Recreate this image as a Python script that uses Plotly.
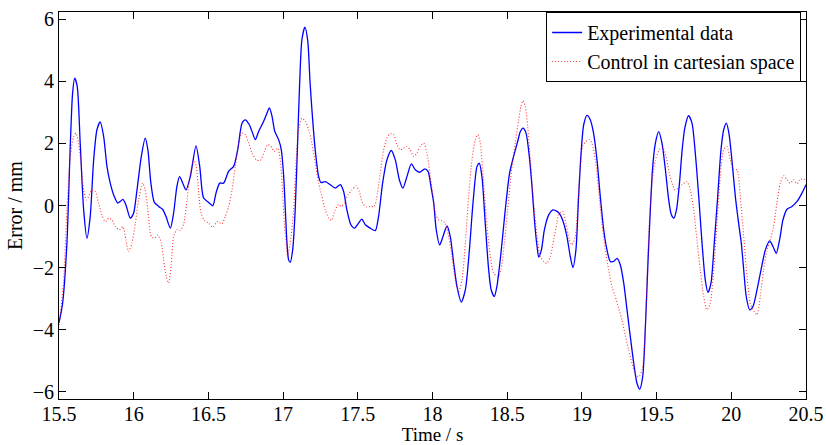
import plotly.graph_objects as go

# Measured tracking error (solid blue)
time_exp = [
    15.500, 15.524, 15.553, 15.576, 15.591, 15.605, 15.622, 15.642, 15.665, 15.687,
    15.709, 15.732, 15.754, 15.776, 15.799, 15.821, 15.843, 15.866, 15.893, 15.910,
    15.928, 15.948, 15.977, 15.999, 16.022, 16.051, 16.077, 16.095, 16.115, 16.138,
    16.167, 16.193, 16.216, 16.245, 16.267, 16.289, 16.307, 16.330, 16.350, 16.379,
    16.417, 16.442, 16.468, 16.502, 16.529, 16.551, 16.576, 16.602, 16.635, 16.669,
    16.696, 16.725, 16.747, 16.774, 16.796, 16.814, 16.837, 16.870, 16.888, 16.908,
    16.926, 16.944, 16.970, 16.988, 17.004, 17.015, 17.026, 17.037, 17.048, 17.064,
    17.081, 17.097, 17.110, 17.126, 17.146, 17.165, 17.180, 17.193, 17.215, 17.238,
    17.253, 17.282, 17.316, 17.349, 17.383, 17.405, 17.427, 17.454, 17.479, 17.505,
    17.527, 17.550, 17.583, 17.617, 17.639, 17.666, 17.695, 17.724, 17.751, 17.778,
    17.802, 17.829, 17.858, 17.885, 17.914, 17.948, 17.970, 17.990, 18.008, 18.025,
    18.048, 18.070, 18.097, 18.119, 18.142, 18.164, 18.193, 18.220, 18.247, 18.271,
    18.298, 18.313, 18.331, 18.353, 18.376, 18.393, 18.414, 18.431, 18.458, 18.487,
    18.516, 18.543, 18.570, 18.588, 18.606, 18.626, 18.648, 18.666, 18.684, 18.700,
    18.711, 18.729, 18.749, 18.778, 18.807, 18.834, 18.855, 18.878, 18.900, 18.922,
    18.940, 18.960, 18.978, 18.996, 19.012, 19.034, 19.056, 19.078, 19.101, 19.123,
    19.146, 19.168, 19.190, 19.213, 19.235, 19.257, 19.280, 19.302, 19.324, 19.347,
    19.369, 19.387, 19.407, 19.425, 19.443, 19.458, 19.474, 19.492, 19.514, 19.536,
    19.559, 19.581, 19.599, 19.615, 19.633, 19.653, 19.671, 19.689, 19.714, 19.737,
    19.759, 19.782, 19.804, 19.826, 19.844, 19.864, 19.886, 19.909, 19.931, 19.949,
    19.967, 19.984, 20.004, 20.027, 20.049, 20.067, 20.083, 20.100, 20.123, 20.145,
    20.172, 20.199, 20.228, 20.257, 20.279, 20.301, 20.323, 20.346, 20.373, 20.406,
    20.440, 20.473, 20.500,
]
error_exp = [
    -3.78, -3.15, -1.21, 2.00, 3.62, 4.10, 3.83, 2.00, -0.14, -1.05,
    -0.35, 1.47, 2.44, 2.69, 2.22, 1.26, 0.72, 0.34, 0.08, 0.13,
    0.20, 0.02, -0.41, -0.25, 0.50, 1.58, 2.17, 1.79, 0.72, 0.10,
    -0.03, -0.12, -0.35, -0.73, -0.25, 0.61, 0.93, 0.70, 0.50, 0.93,
    1.92, 1.26, 0.24, 0.10, -0.01, 0.40, 0.72, 0.72, 1.10, 1.26,
    1.79, 2.65, 2.76, 2.60, 2.33, 2.12, 2.39, 2.71, 2.92, 3.14,
    2.87, 2.39, 2.12, 1.79, 0.93, -0.14, -1.21, -1.75, -1.83, -1.43,
    -0.14, 2.01, 3.83, 5.34, 5.74, 5.30, 4.00, 3.08, 1.79, 0.93,
    0.74, 0.77, 0.67, 0.56, 0.67, 0.45, -0.14, -0.62, -0.73, -0.57,
    -0.44, -0.62, -0.73, -0.81, -0.35, 0.72, 1.47, 1.77, 1.47, 0.83,
    0.56, 0.93, 1.34, 1.15, 1.07, 1.18, 1.10, 0.60, 0.08, -0.78,
    -1.27, -1.00, -0.66, -1.00, -1.86, -2.61, -3.11, -2.71, -1.43, 0.08,
    1.26, 1.36, 0.93, -0.57, -2.07, -2.72, -2.93, -2.61, -1.54, -0.14,
    1.04, 1.58, 2.06, 2.38, 2.49, 2.33, 1.58, 0.61, -0.57, -1.32,
    -1.66, -1.43, -0.78, -0.30, -0.14, -0.19, -0.30, -0.57, -1.00, -1.64,
    -2.00, -1.43, 0.29, 1.79, 2.60, 2.90, 2.76, 2.33, 1.47, 0.29,
    -0.78, -1.43, -1.80, -1.80, -1.70, -1.91, -2.50, -3.36, -4.22, -5.08,
    -5.73, -5.91, -5.51, -3.90, -1.75, -0.14, 1.26, 2.01, 2.38, 2.01,
    1.15, 0.18, -0.30, -0.41, -0.14, 0.72, 1.79, 2.50, 2.89, 2.65,
    1.69, 0.29, -1.21, -2.40, -2.80, -2.50, -1.21, 0.29, 1.79, 2.44,
    2.65, 2.33, 1.47, 0.29, -0.57, -1.21, -2.07, -2.93, -3.36, -3.25,
    -2.72, -2.07, -1.43, -1.14, -1.32, -1.54, -1.11, -0.46, -0.12, -0.03,
    0.13, 0.40, 0.67,
]

# Cartesian-space controller error (dotted red)
time_ctrl = [
    15.500, 15.530, 15.553, 15.576, 15.598, 15.614, 15.631, 15.647, 15.665, 15.683,
    15.698, 15.720, 15.743, 15.765, 15.787, 15.810, 15.832, 15.854, 15.877, 15.904,
    15.928, 15.948, 15.966, 15.988, 16.011, 16.033, 16.060, 16.077, 16.095, 16.118,
    16.140, 16.162, 16.185, 16.200, 16.218, 16.234, 16.252, 16.267, 16.289, 16.312,
    16.334, 16.357, 16.379, 16.401, 16.419, 16.435, 16.451, 16.473, 16.502, 16.529,
    16.558, 16.591, 16.613, 16.636, 16.658, 16.680, 16.703, 16.725, 16.747, 16.770,
    16.792, 16.821, 16.848, 16.875, 16.897, 16.919, 16.941, 16.963, 16.981, 16.997,
    17.008, 17.021, 17.030, 17.048, 17.070, 17.092, 17.108, 17.126, 17.148, 17.171,
    17.193, 17.215, 17.238, 17.260, 17.282, 17.305, 17.323, 17.349, 17.372, 17.387,
    17.410, 17.434, 17.461, 17.488, 17.510, 17.532, 17.557, 17.583, 17.610, 17.632,
    17.650, 17.673, 17.695, 17.717, 17.740, 17.762, 17.784, 17.807, 17.829, 17.851,
    17.874, 17.896, 17.918, 17.941, 17.963, 17.985, 18.007, 18.019, 18.041, 18.063,
    18.085, 18.108, 18.131, 18.153, 18.175, 18.197, 18.220, 18.242, 18.264, 18.287,
    18.304, 18.320, 18.342, 18.365, 18.387, 18.410, 18.438, 18.458, 18.481, 18.503,
    18.532, 18.554, 18.577, 18.592, 18.606, 18.621, 18.637, 18.655, 18.677, 18.700,
    18.722, 18.744, 18.766, 18.789, 18.811, 18.833, 18.844, 18.871, 18.893, 18.916,
    18.933, 18.956, 18.973, 18.989, 19.005, 19.027, 19.049, 19.067, 19.090, 19.112,
    19.134, 19.157, 19.179, 19.201, 19.223, 19.246, 19.268, 19.290, 19.313, 19.335,
    19.357, 19.380, 19.402, 19.420, 19.436, 19.451, 19.469, 19.492, 19.518, 19.541,
    19.563, 19.585, 19.607, 19.625, 19.648, 19.670, 19.703, 19.726, 19.748, 19.770,
    19.792, 19.815, 19.837, 19.859, 19.882, 19.904, 19.926, 19.949, 19.971, 19.993,
    20.015, 20.038, 20.060, 20.083, 20.105, 20.127, 20.154, 20.172, 20.194, 20.216,
    20.239, 20.261, 20.283, 20.305, 20.328, 20.350, 20.373, 20.395, 20.417, 20.440,
    20.462, 20.500,
]
error_ctrl = [
    -3.85, -2.50, -0.14, 1.58, 2.22, 2.33, 2.00, 1.36, 0.50, 0.18,
    0.29, 0.50, 0.45, 0.08, -0.30, -0.52, -0.41, -0.46, -0.68, -0.78,
    -0.68, -1.11, -1.48, -1.21, -0.57, 0.18, 0.72, 0.50, -0.14, -1.00,
    -1.05, -0.95, -1.21, -1.75, -2.29, -2.50, -1.86, -1.00, -0.78, -0.80,
    -0.60, 0.18, 1.04, 1.47, 1.26, 0.40, -0.25, -0.48, -0.57, -0.70,
    -0.52, -0.59, -0.35, -0.03, 0.50, 1.26, 2.01, 2.33, 2.28, 2.01,
    1.69, 1.47, 1.45, 1.74, 1.96, 1.90, 1.74, 1.85, 1.47, 0.40,
    -0.57, -1.21, -1.64, -1.21, -0.14, 1.79, 2.55, 2.81, 2.72, 2.44,
    2.01, 1.36, 0.72, 0.29, -0.14, -0.41, -0.48, -0.14, 0.04, -0.03,
    0.08, 0.34, 0.50, 0.63, 0.45, 0.08, -0.05, -0.03, -0.03, 0.40,
    1.04, 1.79, 2.17, 2.31, 2.28, 1.96, 1.79, 1.85, 1.90, 1.79,
    1.58, 1.69, 1.90, 2.01, 1.69, 0.93, 0.18, -0.25, -0.46, -0.48,
    -0.57, -1.00, -1.64, -2.40, -2.77, -2.40, -1.21, 0.29, 1.47, 2.12,
    2.28, 2.01, 0.72, -0.68, -1.64, -2.18, -2.29, -2.07, -1.21, -0.14,
    1.26, 2.01, 2.76, 3.19, 3.38, 3.19, 2.55, 1.47, 0.08, -1.00,
    -1.64, -1.80, -1.86, -1.64, -1.11, -0.57, -0.30, -0.19, -0.57, -1.11,
    -1.27, -1.00, 0.08, 1.26, 1.90, 2.06, 2.12, 2.01, 1.47, 0.50,
    -0.57, -1.43, -2.07, -2.61, -2.93, -3.31, -3.68, -4.17, -4.65, -5.08,
    -5.40, -5.51, -5.30, -4.44, -2.29, -0.57, 0.72, 1.47, 1.79, 1.88,
    1.58, 1.04, 0.67, 0.50, 0.56, 0.67, 0.77, 0.50, -0.14, -1.11,
    -2.07, -2.93, -3.36, -3.15, -2.07, -0.57, 0.93, 1.79, 1.90, 1.47,
    1.15, 1.15, 0.29, -1.00, -2.29, -3.15, -3.42, -3.52, -2.93, -2.07,
    -1.43, -1.11, -0.68, 0.08, 0.72, 0.96, 0.83, 0.72, 0.83, 0.70,
    0.85, 0.83,
]

x_ticks = [15.5, 16, 16.5, 17, 17.5, 18, 18.5, 19, 19.5, 20, 20.5]
x_tick_text = ["15.5", "16", "16.5", "17", "17.5", "18", "18.5", "19", "19.5", "20", "20.5"]
y_ticks = [-6, -4, -2, 0, 2, 4, 6]
y_tick_text = ["\u22126", "\u22124", "\u22122", "0", "2", "4", "6"]

serif = "Liberation Serif, Times New Roman, serif"

fig = go.Figure()
fig.add_trace(go.Scatter(
    x=time_exp, y=error_exp, mode="lines", name="Experimental data",
    line=dict(color="#0000ff", width=1.3, shape="spline", smoothing=0.7),
))
fig.add_trace(go.Scatter(
    x=time_ctrl, y=error_ctrl, mode="lines", name="Control in cartesian space",
    line=dict(color="rgba(255,0,0,0.8)", width=1.1, dash="1px,2px", shape="spline", smoothing=0.7),
))

axis_common = dict(
    showline=True, linecolor="black", linewidth=1, mirror="allticks",
    ticks="inside", ticklen=7, tickcolor="black", tickwidth=1,
    showgrid=False, zeroline=False, automargin=False,
    tickfont=dict(family=serif, size=20, color="black"),
)

fig.update_layout(
    width=826, height=445,
    margin=dict(l=59, r=20, t=12, b=46, autoexpand=False),
    paper_bgcolor="white", plot_bgcolor="white",
    font=dict(family=serif, size=20, color="black"),
    xaxis=dict(
        range=[15.5, 20.5], tickvals=x_ticks, ticktext=x_tick_text,
        title=dict(text="Time / s", standoff=0, font=dict(family=serif, size=19)),
        **axis_common,
    ),
    yaxis=dict(
        range=[-6.23, 6.23], tickvals=y_ticks, ticktext=y_tick_text,
        title=dict(text="Error / mm", standoff=4, font=dict(family=serif, size=20)),
        **axis_common,
    ),
    legend=dict(
        x=0.9935, y=1.0, xanchor="right", yanchor="top",
        bgcolor="white", bordercolor="black", borderwidth=1,
        font=dict(family=serif, size=20, color="black"),
        tracegroupgap=0, itemwidth=30,
    ),
    showlegend=True,
)
fig.update_xaxes(ticklabelstandoff=-3)

fig.write_html("out.html")
